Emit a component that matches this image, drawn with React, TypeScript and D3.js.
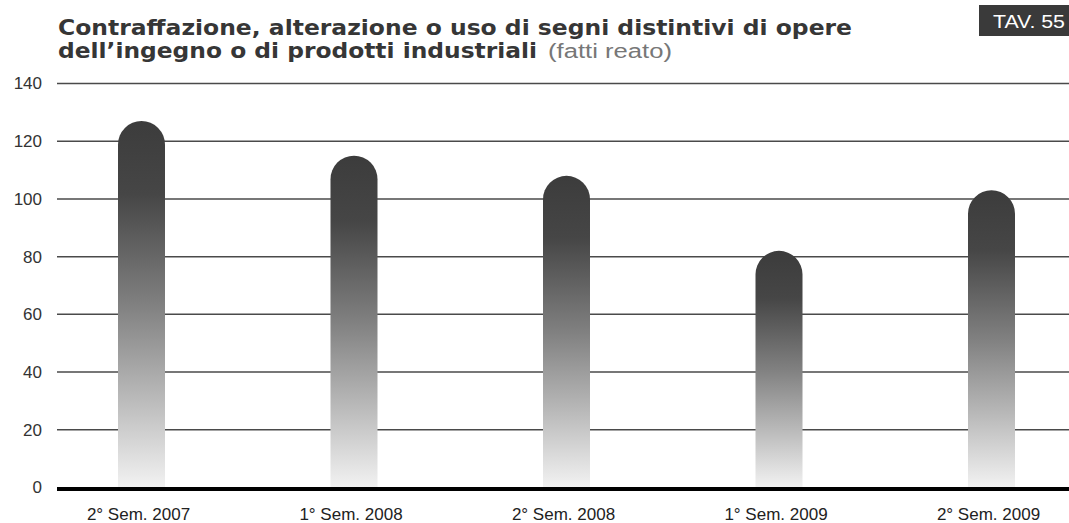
import React from "react";
import * as d3 from "d3";

const categories = ["2° Sem. 2007", "1° Sem. 2008", "2° Sem. 2008", "1° Sem. 2009", "2° Sem. 2009"];
const values = [127, 115, 108, 82, 103];
const yTicks = [0, 20, 40, 60, 80, 100, 120, 140];
const titleLine1 = "Contraffazione, alterazione o uso di segni distintivi di opere";
const titleLine2 = "dell\u2019ingegno o di prodotti industriali";
const titleNote = "(fatti reato)";
const badge = "TAV. 55";

const W = 1069;
const H = 523;

export default function App() {
  const y = d3.scaleLinear().domain([0, 140]).range([487.5, 83.5]);
  const x = d3.scalePoint<string>().domain(categories).range([141.5, 991.5]);
  const barW = 47;
  const gridX0 = 57;
  const gridX1 = W;

  const barPath = (cx: number, v: number) => {
    const x0 = cx - barW / 2;
    const x1 = cx + barW / 2;
    const r = barW / 2;
    const top = y(v);
    const bottom = y(0);
    return `M${x0},${bottom}V${top + r}A${r},${r} 0 0 1 ${x1},${top + r}V${bottom}Z`;
  };

  return (
    <svg
      width={W}
      height={H}
      style={{ position: "absolute", left: 0, top: 0, background: "#fff" }}
      fontFamily="'Liberation Sans', Arial, sans-serif"
    >
      <defs>
        <linearGradient id="barGrad" x1="0" y1="0" x2="0" y2="1">
          <stop offset="0" stopColor="#3c3c3c" />
          <stop offset="0.2" stopColor="#464646" />
          <stop offset="0.5" stopColor="#808080" />
          <stop offset="0.75" stopColor="#b8b8b8" />
          <stop offset="1" stopColor="#f2f2f2" />
        </linearGradient>
      </defs>

      <text
        x={58}
        y={35}
        fontFamily="'DejaVu Sans', sans-serif"
        fontWeight="bold"
        fontSize={22}
        fill="#363636"
        textLength={794}
        lengthAdjust="spacingAndGlyphs"
      >
        {titleLine1}
      </text>
      <text
        x={58}
        y={58}
        fontFamily="'DejaVu Sans', sans-serif"
        fontWeight="bold"
        fontSize={22}
        fill="#363636"
        textLength={479}
        lengthAdjust="spacingAndGlyphs"
      >
        {titleLine2}
      </text>
      <text x={548} y={58} fontSize={20} fill="#777" textLength={124} lengthAdjust="spacingAndGlyphs">
        {titleNote}
      </text>

      <rect x={979} y={5} width={90} height={31} fill="#3a3a3a" />
      <text x={1029} y={28} textAnchor="middle" fontSize={19} fill="#fff" textLength={72} lengthAdjust="spacingAndGlyphs">
        {badge}
      </text>

      {yTicks.map((t) => (
        <g key={t}>
          {t !== 0 && (
            <line x1={gridX0} x2={gridX1} y1={y(t)} y2={y(t)} stroke="#4a4a4a" strokeWidth={1.5} />
          )}
          <text x={42} y={y(t)} dy="0.35em" textAnchor="end" fontSize={17} fill="#333">
            {t}
          </text>
        </g>
      ))}

      {categories.map((c, i) => (
        <path key={c} d={barPath(x(c)!, values[i])} fill="url(#barGrad)" />
      ))}

      <line x1={gridX0} x2={gridX1} y1={y(0) + 1.5} y2={y(0) + 1.5} stroke="#000" strokeWidth={4} />

      {categories.map((c) => (
        <text key={c} x={x(c)! - 3} y={520} textAnchor="middle" fontSize={17} fill="#222">
          {c}
        </text>
      ))}
    </svg>
  );
}
